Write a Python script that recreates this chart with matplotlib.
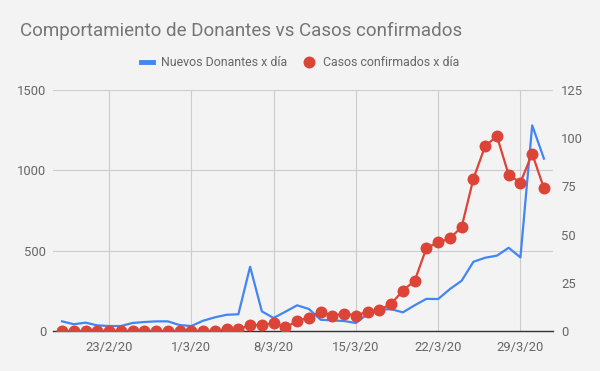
import pandas as pd
import matplotlib
matplotlib.use("Agg")
import matplotlib.pyplot as plt
from matplotlib.lines import Line2D

plt.rcParams['font.family'] = ['Roboto', 'DejaVu Sans']

# Datos diarios 19/2/20 - 31/3/20
fechas = pd.date_range("2020-02-19", "2020-03-31", freq="D")

donantes = [60, 42, 52, 35, 31, 31, 50, 56, 60, 60, 37, 31, 64, 85,
            101, 104, 400, 122, 81, 120, 160, 137, 70, 66, 62, 50,
            106, 133, 136, 116, 160, 200, 199, 261, 313, 431, 456,
            469, 518, 458, 1280, 1073]

casos = [0, 0, 0, 0, 0, 0, 0, 0, 0, 0, 0, 0, 0, 0,
         1, 1, 3, 3, 4, 2, 5, 7, 10, 8, 9, 8,
         10, 11, 14, 21, 26, 43, 46, 48, 54, 79, 96,
         101, 81, 77, 92, 74]

tick_fechas = ["2020-02-23", "2020-03-01", "2020-03-08",
               "2020-03-15", "2020-03-22", "2020-03-29"]
tick_labels = ["23/2/20", "1/3/20", "8/3/20", "15/3/20", "22/3/20", "29/3/20"]

azul = "#4285f4"
rojo = "#db4437"
fondo = "#f3f3f3"
gris_texto = "#666666"

fig = plt.figure(figsize=(6, 3.71), dpi=100, facecolor=fondo)
ax1 = fig.add_axes([53 / 600, 40 / 371, 500 / 600, 241 / 371], facecolor=fondo)
ax2 = ax1.twinx()

ax1.plot(fechas, donantes, color=azul, lw=1.6, zorder=2)
ax2.plot(fechas, casos, color=rojo, lw=1.6, marker="o", markersize=8.6,
         markeredgewidth=0, zorder=3)

margen = pd.Timedelta(hours=18.5)
ax1.set_xlim(fechas[0] - margen, fechas[-1] + margen)
ax1.set_ylim(0, 1500)
ax2.set_ylim(0, 125)
ax1.set_yticks([0, 500, 1000, 1500])
ax2.set_yticks([0, 25, 50, 75, 100, 125])
ax1.set_xticks(pd.to_datetime(tick_fechas))
ax1.set_xticklabels(tick_labels)

ax1.grid(True, color="#cccccc", lw=0.8)
ax1.set_axisbelow(True)
for ax in (ax1, ax2):
    for s in ax.spines.values():
        s.set_visible(False)
    ax.tick_params(length=0, labelsize=9.4, labelcolor=gris_texto)
ax2.spines["bottom"].set_visible(True)
ax2.spines["bottom"].set_color("#333333")
ax2.spines["bottom"].set_linewidth(1.0)
ax1.tick_params(axis="y", pad=5)
ax2.tick_params(axis="y", pad=6)
ax1.tick_params(axis="x", pad=7)

fig.text(20 / 600, 1 - 31 / 371, "Comportamiento de Donantes vs Casos confirmados",
         fontsize=13.5, color="#757575", va="center", ha="left")

handles = [Line2D([], [], color=azul, lw=3.5),
           Line2D([], [], color=rojo, lw=0, marker="o", markersize=8.6, markeredgewidth=0)]
fig.legend(handles, ["Nuevos Donantes x día", "Casos confirmados x día"],
           loc="center", bbox_to_anchor=(0.5, 1 - 62.5 / 371), ncol=2, frameon=False,
           fontsize=8.9, labelcolor=gris_texto, handlelength=0.95, handletextpad=0.65,
           columnspacing=1.3)

fig.savefig("out.png", dpi=100, facecolor=fondo)
